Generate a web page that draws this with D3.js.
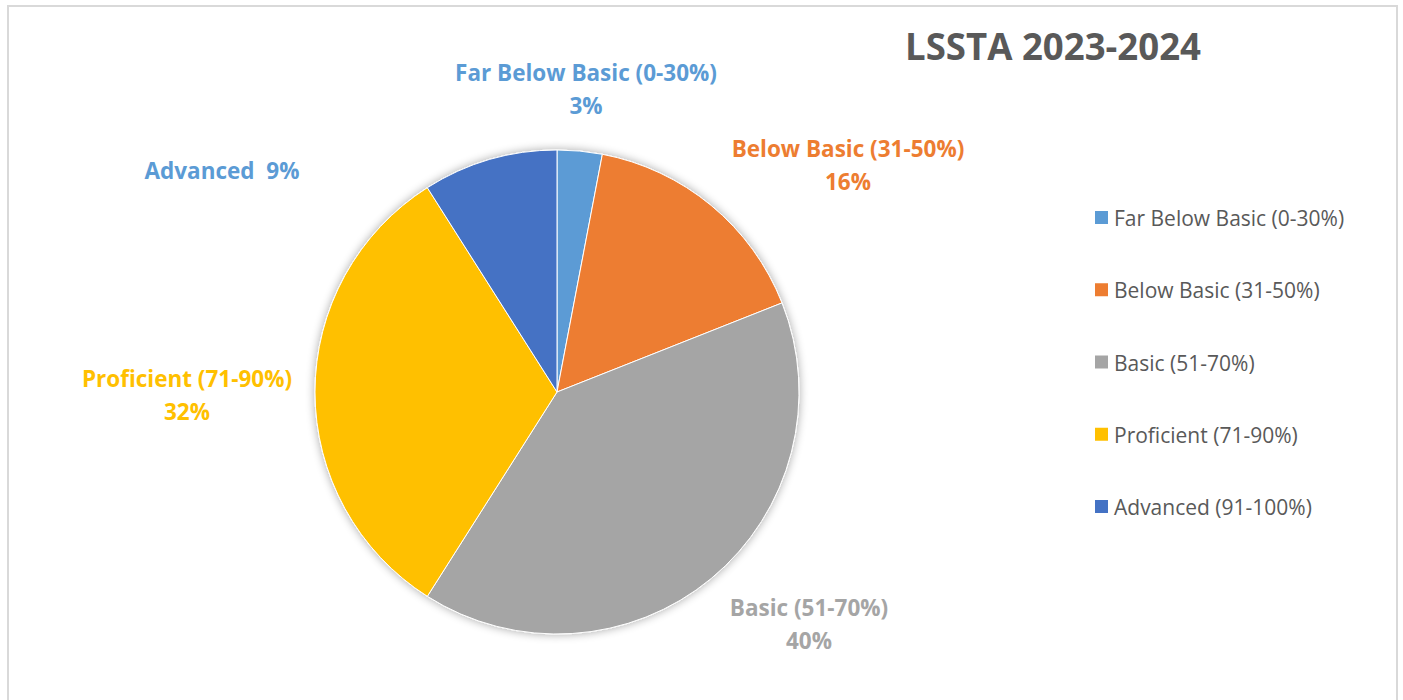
<!DOCTYPE html>
<html>
<head>
<meta charset="utf-8">
<script src="https://cdn.jsdelivr.net/npm/d3@7"></script>
<style>
  html, body { margin: 0; padding: 0; background: #fff; }
  svg { display: block; }
</style>
</head>
<body>
<svg id="chart" width="1403" height="700"></svg>
<script>
const categories = ["Far Below Basic (0-30%)", "Below Basic (31-50%)", "Basic (51-70%)", "Proficient (71-90%)", "Advanced (91-100%)"];
const values = [3, 16, 40, 32, 9];
const labelNames = ["Far Below Basic (0-30%)", "Below Basic (31-50%)", "Basic (51-70%)", "Proficient (71-90%)", "Advanced"];
const colors = ["#5B9BD5", "#ED7D31", "#A5A5A5", "#FFC000", "#4472C4"];
const labelColors = ["#5B9BD5", "#ED7D31", "#A5A5A5", "#FFC000", "#5B9BD5"];
const title = "LSSTA 2023-2024";

const svg = d3.select("#chart");
const FONT = "'Open Sans', Lato, sans-serif";

// chart border
svg.append("rect").attr("x", 8).attr("y", 6).attr("width", 1389).attr("height", 720)
  .attr("fill", "#fff").attr("stroke", "#D9D9D9").attr("stroke-width", 2);

// shadow filter
const defs = svg.append("defs");
const f = defs.append("filter").attr("id", "shadow").attr("x", "-20%").attr("y", "-20%").attr("width", "140%").attr("height", "140%");
f.append("feGaussianBlur").attr("in", "SourceAlpha").attr("stdDeviation", 5).attr("result", "b");
f.append("feComponentTransfer").attr("in", "b").attr("result", "s")
  .append("feFuncA").attr("type", "linear").attr("slope", 0.35);
const m = f.append("feMerge");
m.append("feMergeNode").attr("in", "s");
m.append("feMergeNode").attr("in", "SourceGraphic");

// fit helper: squeeze text to the reference width
function fit(sel, w) {
  const n = sel.node();
  const cur = n.getComputedTextLength();
  if (cur > w) sel.attr("textLength", w).attr("lengthAdjust", "spacingAndGlyphs");
}

// title
const tt = svg.append("text").attr("x", 1053).attr("y", 60).attr("text-anchor", "middle")
  .attr("font-family", FONT).attr("font-weight", "bold").attr("font-size", 37)
  .attr("fill", "#595959").text(title);
fit(tt, 296);

// pie
const cx = 557, cy = 392, r = 242;
const data = categories.map((c, i) => ({ cat: c, value: values[i], i }));
const pie = d3.pie().value(d => d.value).sort(null);
const arc = d3.arc().innerRadius(0).outerRadius(r);
const arcs = pie(data);

const g = svg.append("g").attr("transform", `translate(${cx},${cy})`).attr("filter", "url(#shadow)");
g.selectAll("path").data(arcs).join("path")
  .attr("d", arc)
  .attr("fill", d => colors[d.data.i])
  .attr("stroke", "#fff").attr("stroke-width", 1);

// data labels (placed outside, Excel best-fit style)
const labelPos = [
  { x: 586, y: 81, lines: 2 },
  { x: 848, y: 157, lines: 2 },
  { x: 809, y: 616, lines: 2 },
  { x: 187, y: 387, lines: 2 },
  { x: 222, y: 179, lines: 1 }
];
arcs.forEach((a, i) => {
  const p = labelPos[i];
  const t = svg.append("text").attr("text-anchor", "middle")
    .attr("font-family", FONT).attr("font-weight", "bold").attr("font-size", 22.5)
    .attr("fill", labelColors[i]);
  const pct = Math.round(values[i] / d3.sum(values) * 100) + "%";
  if (p.lines === 2) {
    t.append("tspan").attr("x", p.x).attr("y", p.y).text(labelNames[i]);
    t.append("tspan").attr("x", p.x).attr("y", p.y + 33).text(pct);
  } else {
    t.append("tspan").attr("x", p.x).attr("y", p.y).attr("xml:space", "preserve").text(labelNames[i] + "\u00A0 " + pct);
  }
});

// legend
const legY = d3.scalePoint().domain(categories).range([218, 507]);
const leg = svg.append("g");
categories.forEach((c, i) => {
  const y = legY(c);
  leg.append("rect").attr("x", 1095).attr("y", y - 7).attr("width", 13).attr("height", 13).attr("fill", colors[i]);
  leg.append("text").attr("x", 1114).attr("y", y + 8)
    .attr("font-family", FONT).attr("font-size", 21).attr("fill", "#595959").text(c);
});
</script>
</body>
</html>
